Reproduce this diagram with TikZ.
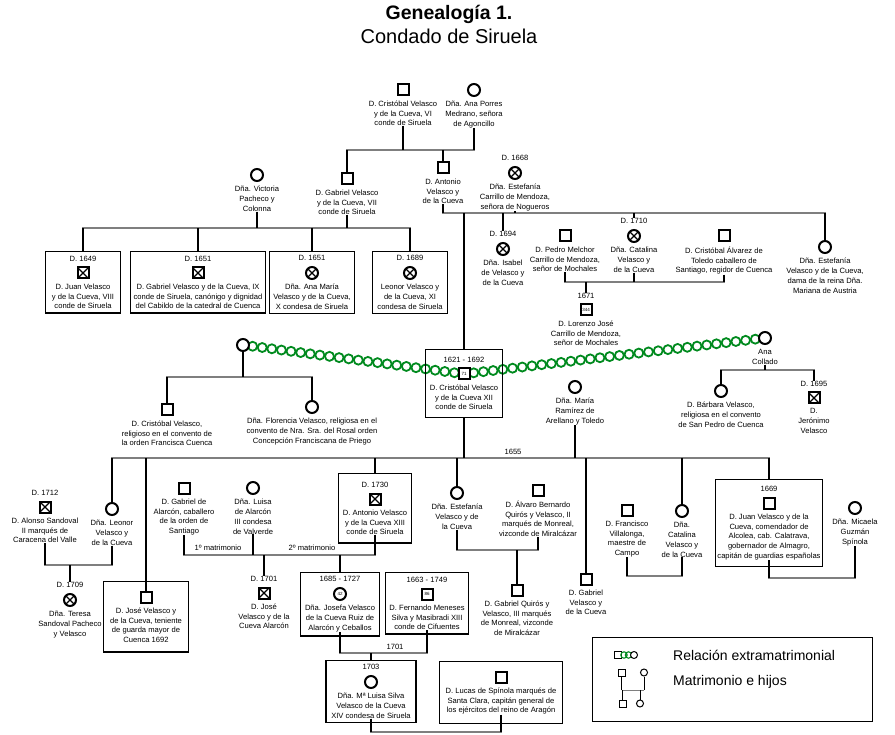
\documentclass[tikz,border=0pt]{standalone}
\usepackage{fontspec}
\setmainfont{Liberation Sans}
\usetikzlibrary{positioning, fit, calc, backgrounds}
\definecolor{KinGray}{HTML}{7F7F7F}
\definecolor{AffairGreen}{HTML}{008A1E}
\tikzset{
  male/.style={draw, line width=2pt, fill=white, minimum size=11pt, inner sep=0pt},
  female/.style={draw, circle, line width=2pt, fill=white, minimum size=12pt, inner sep=0pt},
  dead/.style={path picture={\draw[line width=1.1pt] (path picture bounding box.south west) -- (path picture bounding box.north east) (path picture bounding box.north west) -- (path picture bounding box.south east);}},
  aged/.style={font=\fontsize{4.5}{4.5}\selectfont},
  who/.style={align=center, inner sep=0pt, font=\fontsize{7.6}{9.8}\selectfont},
  when/.style={inner sep=0pt, font=\fontsize{7.6}{9.8}\selectfont},
  kin/.style={line width=2.2pt},
  wed/.style={draw=KinGray, line width=2pt, line cap=rect},
  housebox/.style={draw, line width=1.2pt, inner sep=4pt},
  affair/.style={draw=AffairGreen, line width=1.8pt},
  minimale/.style={draw, line width=1pt, fill=white, minimum size=7pt, inner sep=0pt},
  minifemale/.style={draw, circle, line width=1pt, fill=white, minimum size=7pt, inner sep=0pt}
}
\begin{document}
\begin{tikzpicture}[x=1pt, y=-1pt]
\useasboundingbox (0,0) rectangle (895,735);

\node[font=\fontsize{19.5}{22}\selectfont\bfseries, anchor=base] (title) at (449,20) {Genealogía 1.};
\node[font=\fontsize{20}{22}\selectfont, anchor=base] (subtitle) at (449,44) {Condado de Siruela};

% VI conde
\node[male] (cris6) at (403,90) {};
\node[who, below=4pt of cris6] (cris6t) {D. Cristóbal Velasco\\y de la Cueva, VI\\conde de Siruela};
\node[female] (ana6) at (474,90) {};
\node[who, below=4pt of ana6] (ana6t) {Dña. Ana Porres\\Medrano, señora\\de Agoncillo};

\node[female] (vic) at (257,175) {};
\node[who, below=4pt of vic] (vict) {Dña. Victoria\\Pacheco y\\Colonna};
\node[male] (gab7) at (347,179) {};
\node[who, below=4pt of gab7] (gab7t) {D. Gabriel Velasco\\y de la Cueva, VII\\conde de Siruela};
\node[male] (ant) at (443,168) {};
\node[who, below=4pt of ant] (antt) {D. Antonio\\Velasco y\\de la Cueva};
\node[female, dead] (estc) at (515,173) {};
\node[when, above=5pt of estc] (estcd) {D. 1668};
\node[who, below=4pt of estc] (estct) {Dña. Estefanía\\Carrillo de Mendoza,\\señora de Nogueros};

% VIII - XI
\node[male, dead] (juan8) at (83,273) {};
\node[when, above=5pt of juan8] (juan8d) {D. 1649};
\node[who, below=4pt of juan8] (juan8t) {D. Juan Velasco\\y de la Cueva, VIII\\conde de Siruela};
\node[housebox, fit=(juan8d)(juan8t), inner xsep=6pt] (juan8box) {};
\node[male, dead] (gab9) at (198,273) {};
\node[when, above=5pt of gab9] (gab9d) {D. 1651};
\node[who, below=4pt of gab9] (gab9t) {D. Gabriel Velasco y de la Cueva, IX\\conde de Siruela, canónigo y dignidad\\del Cabildo de la catedral de Cuenca};
\node[housebox, fit=(gab9d)(gab9t), inner xsep=3pt] (gab9box) {};
\node[female, dead] (anam) at (312,273) {};
\node[when, above=5pt of anam] (anamd) {D. 1651};
\node[who, below=4pt of anam] (anamt) {Dña. Ana María\\Velasco y de la Cueva,\\X condesa de Siruela};
\node[housebox, fit=(anamd)(anamt)] (anambox) {};
\node[female, dead] (leo11) at (410,273) {};
\node[when, above=5pt of leo11] (leo11d) {D. 1689};
\node[who, below=4pt of leo11] (leo11t) {Leonor Velasco y\\de la Cueva, XI\\condesa de Siruela};
\node[housebox, fit=(leo11d)(leo11t), inner xsep=5pt] (leo11box) {};

% hijos de D. Antonio
\node[male, aged] (cris12) at (464,374) {71};
\node[when, above=5pt of cris12] (cris12d) {1621 - 1692};
\node[who, below=4pt of cris12] (cris12t) {D. Cristóbal Velasco\\y de la Cueva XII\\conde de Siruela};
\node[housebox, fit=(cris12d)(cris12t), inner ysep=7pt] (cris12box) {};
\node[female, dead] (isa) at (503,249) {};
\node[when, above=5pt of isa] (isad) {D. 1694};
\node[who, below=4pt of isa] (isat) {Dña. Isabel\\de Velasco y\\de la Cueva};
\node[male] (pedro) at (565,236) {};
\node[who, below=4pt of pedro] (pedrot) {D. Pedro Melchor\\Carrillo de Mendoza,\\señor de Mochales};
\node[female, dead] (catv) at (634,236) {};
\node[when, above=5pt of catv] (catvd) {D. 1710};
\node[who, below=4pt of catv] (catvt) {Dña. Catalina\\Velasco y\\de la Cueva};
\node[male] (crisa) at (724,236) {};
\node[who, below=4pt of crisa] (crisat) {D. Cristóbal Álvarez de\\Toledo caballero de\\Santiago, regidor de Cuenca};
\node[female] (este) at (825,247) {};
\node[who, below=4pt of este] (estet) {Dña. Estefanía\\Velasco y de la Cueva,\\dama de la reina Dña.\\Mariana de Austria};
\node[male, aged] (lor) at (586,310) {344};
\node[when, above=5pt of lor] (lord) {1671};
\node[who, below=4pt of lor] (lort) {D. Lorenzo José\\Carrillo de Mendoza,\\señor de Mochales};

% XII conde
\node[female] (mis) at (243,345) {};
\node[male] (crisr) at (167,410) {};
\node[who, below=4pt of crisr] (crisrt) {D. Cristóbal Velasco,\\religioso en el convento de\\la orden Francisca Cuenca};
\node[female] (flo) at (312,407) {};
\node[who, below=4pt of flo] (flot) {Dña. Florencia Velasco, religiosa en el\\convento de Nra. Sra. del Rosal orden\\Concepción Franciscana de Priego};
\node[female] (anac) at (765,338) {};
\node[who, below=4pt of anac] (anact) {Ana\\Collado};
\node[female] (barb) at (721,391) {};
\node[who, below=4pt of barb] (barbt) {D. Bárbara Velasco,\\religiosa en el convento\\de San Pedro de Cuenca};
\node[male, dead] (jer) at (814,398) {};
\node[when, above=5pt of jer] (jerd) {D. 1695};
\node[who, below=4pt of jer] (jert) {D.\\Jerónimo\\Velasco};
\node[female] (maria) at (575,387) {};
\node[who, below=4pt of maria] (mariat) {Dña. María\\Ramírez de\\Arellano y Toledo};
\node[when] (y1655) at (513,452) {1655};

% hijos de 1655
\node[female] (leon) at (112,509) {};
\node[who, below=4pt of leon] (leont) {Dña. Leonor\\Velasco y\\de la Cueva};
\node[male, dead] (alonso) at (45,507) {};
\node[when, above=5pt of alonso] (alonsod) {D. 1712};
\node[who, below=4pt of alonso] (alonsot) {D. Alonso Sandoval\\II marqués de\\Caracena del Valle};
\node[female, dead] (teresa) at (70,600) {};
\node[when, above=5pt of teresa] (teresad) {D. 1709};
\node[who, below=4pt of teresa] (teresat) {Dña. Teresa\\Sandoval Pacheco\\y Velasco};
\node[male] (jose) at (146,597) {};
\node[who, below=4pt of jose] (joset) {D. José Velasco y\\de la Cueva, teniente\\de guarda mayor de\\Cuenca 1692};
\node[housebox, fit=(jose)(joset), inner xsep=6pt, inner ysep=9pt] (josebox) {};
\node[male] (gaba) at (184,488) {};
\node[who, below=4pt of gaba] (gabat) {D. Gabriel de\\Alarcón, caballero\\de la orden de\\Santiago};
\node[female] (luisa) at (253,488) {};
\node[who, below=4pt of luisa] (luisat) {Dña. Luisa\\de Alarcón\\III condesa\\de Valverde};
\node[male, dead] (ant13) at (375,499) {};
\node[when, above=5pt of ant13] (ant13d) {D. 1730};
\node[who, below=4pt of ant13] (ant13t) {D. Antonio Velasco\\y de la Cueva XIII\\conde de Siruela};
\node[housebox, fit=(ant13d)(ant13t), inner ysep=8pt] (ant13box) {};
\node[when] (mat1) at (218,548) {1º matrimonio};
\node[when] (mat2) at (312,548) {2º matrimonio};
\node[male, dead] (josea) at (264,593) {};
\node[when, above=5pt of josea] (josead) {D. 1701};
\node[who, below=4pt of josea] (joseat) {D. José\\Velasco y de la\\Cueva Alarcón};
\node[female] (est3) at (457,493) {};
\node[who, below=4pt of est3] (est3t) {Dña. Estefanía\\Velasco y de\\la Cueva};
\node[male] (alvaro) at (538,490) {};
\node[who, below=4pt of alvaro] (alvarot) {D. Álvaro Bernardo\\Quirós y Velasco, II\\marqués de Monreal,\\vizconde de Miralcázar};
\node[male] (gabq) at (517,590) {};
\node[who, below=4pt of gabq] (gabqt) {D. Gabriel Quirós y\\Velasco, III marqués\\de Monreal, vizconde\\de Miralcázar};
\node[male] (gabv) at (586,579) {};
\node[who, below=4pt of gabv] (gabvt) {D. Gabriel\\Velasco y\\de la Cueva};
\node[male] (fran) at (627,510) {};
\node[who, below=4pt of fran] (frant) {D. Francisco\\Villalonga,\\maestre de\\Campo};
\node[female] (cat2) at (682,511) {};
\node[who, below=4pt of cat2] (cat2t) {Dña.\\Catalina\\Velasco y\\de la Cueva};
\node[male] (juanv) at (769,503) {};
\node[when, above=5pt of juanv] (juanvd) {1669};
\node[who, below=4pt of juanv] (juanvt) {D. Juan Velasco y de la\\Cueva, comendador de\\Alcolea, cab. Calatrava,\\gobernador de Almagro,\\capitán de guardias españolas};
\node[housebox, fit=(juanvd)(juanvt), inner xsep=2pt, inner ysep=6pt] (juanvbox) {};
\node[female] (mica) at (855,508) {};
\node[who, below=4pt of mica] (micat) {Dña. Micaela\\Guzmán\\Spínola};

% XIV condesa
\node[female, aged] (josefa) at (340,594) {42};
\node[when, above=5pt of josefa] (josefad) {1685 - 1727};
\node[who, below=4pt of josefa] (josefat) {Dña. Josefa Velasco\\de la Cueva Ruiz de\\Alarcón y Ceballos};
\node[housebox, fit=(josefad)(josefat)] (josefabox) {};
\node[male, aged] (fern) at (427,594) {86};
\node[when, above=5pt of fern] (fernd) {1663 - 1749};
\node[who, below=4pt of fern] (fernt) {D. Fernando Meneses\\Silva y Masibradi XIII\\conde de Cifuentes};
\node[housebox, fit=(fernd)(fernt)] (fernbox) {};
\node[when] (y1701) at (395,647) {1701};
\node[female] (mlu) at (371,682) {};
\node[when, above=5pt of mlu] (mlud) {1703};
\node[who, below=4pt of mlu] (mlut) {Dña. Mª Luisa Silva\\Velasco de la Cueva\\XIV condesa de Siruela};
\node[housebox, fit=(mlud)(mlut), inner xsep=5pt] (mlubox) {};
\node[male] (lucas) at (501,677) {};
\node[who, below=4pt of lucas] (lucast) {D. Lucas de Spínola marqués de\\Santa Clara, capitán general de\\los ejércitos del reino de Aragón};
\node[housebox, fit=(lucas)(lucast), inner xsep=6pt, inner ysep=9pt] (lucasbox) {};

\coordinate (m1) at (0,150);
\coordinate (m2) at (0,228);
\coordinate (m3) at (0,213);
\coordinate (m4) at (0,282);
\coordinate (m5) at (0,377);
\coordinate (m6) at (0,370);
\coordinate (m7) at (0,458);
\coordinate (m8) at (0,565);
\coordinate (m9) at (0,555);
\coordinate (m10) at (0,550);
\coordinate (m11) at (0,576);
\coordinate (m12) at (0,578);
\coordinate (m13) at (0,653);
\coordinate (m14) at (0,732);

\draw[wed] (gab7 |- m1) -- (ana6 |- m1);
\draw[kin] (cris6t.south) -- (cris6t.south |- m1);
\draw[kin] (ana6t.south) -- (ana6t.south |- m1);
\draw[kin] (gab7 |- m1) -- (gab7.north);
\draw[kin] (ant |- m1) -- (ant.north);

\draw[wed] (juan8 |- m2) -- (leo11 |- m2);
\draw[kin] (vict.south) -- (vict.south |- m2);
\draw[kin] (gab7t.south) -- (gab7t.south |- m2);
\foreach \kid in {juan8, gab9, anam, leo11}
  \draw[kin] (\kid |- m2) -- (\kid |- \kid box.north);

\draw[wed] (ant |- m3) -- (este |- m3);
\draw[kin] (antt.south) -- (antt.south |- m3);
\draw[kin] (estct.south) -- (estct.south |- m3);
\draw[kin] (cris12 |- m3) -- (cris12 |- cris12box.north);
\draw[kin] (isa |- m3) -- (isad.north);
\draw[kin] (catv |- m3) -- (catvd.north);
\draw[kin] (este |- m3) -- (este.north);

\draw[wed] (pedro |- m4) -- (crisa |- m4);
\draw[kin] (pedrot.south) -- (pedrot.south |- m4);
\draw[kin] (catvt.south) -- (catvt.south |- m4);
\draw[kin] (crisat.south) -- (crisat.south |- m4);
\draw[kin] (lor |- m4) -- (lord.north);

\draw[wed] (crisr |- m5) -- (flo |- m5);
\draw[kin] (mis.south) -- (mis |- m5);
\draw[kin] (crisr |- m5) -- (crisr.north);
\draw[kin] (flo |- m5) -- (flo.north);

\draw[wed] (barb |- m6) -- (jer |- m6);
\draw[kin] (anact.south) -- (anact.south |- m6);
\draw[kin] (barb |- m6) -- (barb.north);
\draw[kin] (jer |- m6) -- (jerd.north);

\draw[wed] (leon |- m7) -- (juanv |- m7);
\draw[kin] (cris12 |- cris12box.south) -- (cris12 |- m7);
\draw[kin] (mariat.south) -- (mariat.south |- m7);
\foreach \kid in {leon, jose, est3, gabv, cat2}
  \draw[kin] (\kid |- m7) -- (\kid.north);
\draw[kin] (ant13 |- m7) -- (ant13 |- ant13box.north);
\draw[kin] (juanv |- m7) -- (juanv |- juanvbox.north);

\draw[wed] (alonso |- m8) -- (leon |- m8);
\draw[kin] (alonsot.south) -- (alonsot.south |- m8);
\draw[kin] (leont.south) -- (leont.south |- m8);
\draw[kin] (teresa |- m8) -- (teresad.north);

\draw[wed] (gaba |- m9) -- (ant13 |- m9);
\draw[kin] (gabat.south) -- (gabat.south |- m9);
\draw[kin] (luisat.south) -- (luisat.south |- m9);
\draw[kin] (ant13t.south) -- (ant13t.south |- m9);
\draw[kin] (josea |- m9) -- (josead.north);
\draw[kin] (josefa |- m9) -- (josefa |- josefabox.north);

\draw[wed] (est3 |- m10) -- (alvaro |- m10);
\draw[kin] (est3t.south) -- (est3t.south |- m10);
\draw[kin] (alvarot.south) -- (alvarot.south |- m10);
\draw[kin] (gabq |- m10) -- (gabq.north);

\draw[wed] (fran |- m11) -- (cat2 |- m11);
\draw[kin] (frant.south) -- (frant.south |- m11);
\draw[kin] (cat2t.south) -- (cat2t.south |- m11);

\draw[wed] (juanv |- m12) -- (mica |- m12);
\draw[kin] (juanvt.south) -- (juanvt.south |- m12);
\draw[kin] (micat.south) -- (micat.south |- m12);

\draw[wed] (josefa |- m13) -- (fern |- m13);
\draw[kin] (josefat.south) -- (josefat.south |- m13);
\draw[kin] (fernt.south) -- (fernt.south |- m13);
\draw[kin] (mlu |- m13) -- (mlu |- mlubox.north);

\draw[wed] (mlu |- m14) -- (lucas |- m14);
\draw[kin] (mlut.south) -- (mlut.south |- m14);
\draw[kin] (lucast.south) -- (lucast.south |- m14);

\begin{scope}[on background layer]
\fill[white] (0,0) rectangle (895,735);
\foreach \i in {1,...,22}
  \draw[affair] ($(mis)!\i/23!(cris12)$) circle (4.5pt);
\foreach \i in {1,...,30}
  \draw[affair] ($(cris12)!\i/31!(anac)$) circle (4.5pt);
\end{scope}

% leyenda
\node[draw, line width=1pt, minimum width=280pt, minimum height=84pt] (legend) at (732,679) {};
\node[minimale] (lgm) at (617.5,655) {};
\draw[affair, line width=1.1pt] (624,655) circle (3.2pt) (628.5,655) circle (3.2pt);
\node[minifemale] (lgf) at (634,655) {};
\node[anchor=west, inner sep=0pt, font=\fontsize{14}{16}\selectfont] (lgt1) at (673,655) {Relación extramatrimonial};
\node[minimale] (lgfa) at (621.5,672.5) {};
\node[minifemale] (lgmo) at (644,672.5) {};
\node[minimale] (lgson) at (622.5,703.5) {};
\node[minifemale] (lgdau) at (640,703.5) {};
\coordinate (lgw) at (0,690);
\draw[draw=KinGray, line width=1pt] (lgfa |- lgw) -- (lgmo |- lgw);
\draw[line width=1pt] (lgfa.south) -- (lgfa |- lgw);
\draw[line width=1pt] (lgmo.south) -- (lgmo |- lgw);
\draw[line width=1pt] (lgson |- lgw) -- (lgson.north);
\draw[line width=1pt] (lgdau |- lgw) -- (lgdau.north);
\node[anchor=west, inner sep=0pt, font=\fontsize{14}{16}\selectfont] (lgt2) at (673,682) {Matrimonio e hijos};
\end{tikzpicture}
\end{document}
